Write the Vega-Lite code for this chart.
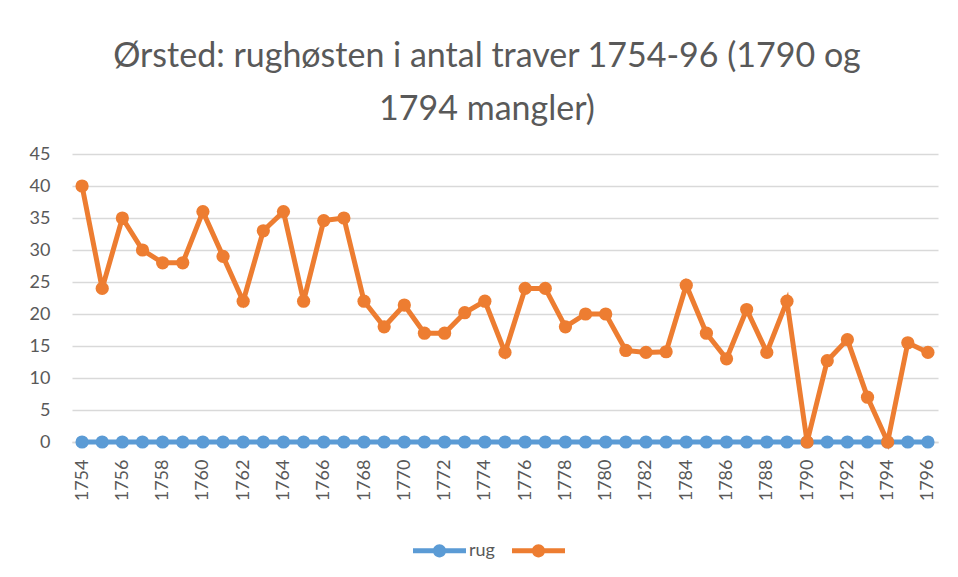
{
  "$schema": "https://vega.github.io/schema/vega-lite/v6.json",
  "width": 866,
  "height": 288,
  "autosize": {"type": "none"},
  "padding": {"left": 72, "top": 154, "right": 20, "bottom": 135},
  "background": "white",
  "title": {
    "text": ["Ørsted: rughøsten i antal traver 1754-96 (1790 og", "1794 mangler)"],
    "font": "Lato",
    "fontSize": 34,
    "fontWeight": 400,
    "color": "#595959",
    "lineHeight": 53,
    "anchor": "middle",
    "dx": -18,
    "offset": 18
  },
  "config": {
    "view": {"stroke": null},
    "font": "Lato",
    "axis": {"labelFont": "Lato", "labelColor": "#595959", "labelFontSize": 18}
  },
  "data": {
    "values": [
      {"year": 1754, "series": "rug", "value": 0},
      {"year": 1755, "series": "rug", "value": 0},
      {"year": 1756, "series": "rug", "value": 0},
      {"year": 1757, "series": "rug", "value": 0},
      {"year": 1758, "series": "rug", "value": 0},
      {"year": 1759, "series": "rug", "value": 0},
      {"year": 1760, "series": "rug", "value": 0},
      {"year": 1761, "series": "rug", "value": 0},
      {"year": 1762, "series": "rug", "value": 0},
      {"year": 1763, "series": "rug", "value": 0},
      {"year": 1764, "series": "rug", "value": 0},
      {"year": 1765, "series": "rug", "value": 0},
      {"year": 1766, "series": "rug", "value": 0},
      {"year": 1767, "series": "rug", "value": 0},
      {"year": 1768, "series": "rug", "value": 0},
      {"year": 1769, "series": "rug", "value": 0},
      {"year": 1770, "series": "rug", "value": 0},
      {"year": 1771, "series": "rug", "value": 0},
      {"year": 1772, "series": "rug", "value": 0},
      {"year": 1773, "series": "rug", "value": 0},
      {"year": 1774, "series": "rug", "value": 0},
      {"year": 1775, "series": "rug", "value": 0},
      {"year": 1776, "series": "rug", "value": 0},
      {"year": 1777, "series": "rug", "value": 0},
      {"year": 1778, "series": "rug", "value": 0},
      {"year": 1779, "series": "rug", "value": 0},
      {"year": 1780, "series": "rug", "value": 0},
      {"year": 1781, "series": "rug", "value": 0},
      {"year": 1782, "series": "rug", "value": 0},
      {"year": 1783, "series": "rug", "value": 0},
      {"year": 1784, "series": "rug", "value": 0},
      {"year": 1785, "series": "rug", "value": 0},
      {"year": 1786, "series": "rug", "value": 0},
      {"year": 1787, "series": "rug", "value": 0},
      {"year": 1788, "series": "rug", "value": 0},
      {"year": 1789, "series": "rug", "value": 0},
      {"year": 1790, "series": "rug", "value": 0},
      {"year": 1791, "series": "rug", "value": 0},
      {"year": 1792, "series": "rug", "value": 0},
      {"year": 1793, "series": "rug", "value": 0},
      {"year": 1794, "series": "rug", "value": 0},
      {"year": 1795, "series": "rug", "value": 0},
      {"year": 1796, "series": "rug", "value": 0},
      {"year": 1754, "series": "s2", "value": 40},
      {"year": 1755, "series": "s2", "value": 24},
      {"year": 1756, "series": "s2", "value": 35},
      {"year": 1757, "series": "s2", "value": 30},
      {"year": 1758, "series": "s2", "value": 28},
      {"year": 1759, "series": "s2", "value": 28},
      {"year": 1760, "series": "s2", "value": 36},
      {"year": 1761, "series": "s2", "value": 29},
      {"year": 1762, "series": "s2", "value": 22},
      {"year": 1763, "series": "s2", "value": 33},
      {"year": 1764, "series": "s2", "value": 36},
      {"year": 1765, "series": "s2", "value": 22},
      {"year": 1766, "series": "s2", "value": 34.6},
      {"year": 1767, "series": "s2", "value": 35},
      {"year": 1768, "series": "s2", "value": 22},
      {"year": 1769, "series": "s2", "value": 18},
      {"year": 1770, "series": "s2", "value": 21.4},
      {"year": 1771, "series": "s2", "value": 17},
      {"year": 1772, "series": "s2", "value": 17},
      {"year": 1773, "series": "s2", "value": 20.2},
      {"year": 1774, "series": "s2", "value": 22},
      {"year": 1775, "series": "s2", "value": 14},
      {"year": 1776, "series": "s2", "value": 24},
      {"year": 1777, "series": "s2", "value": 24},
      {"year": 1778, "series": "s2", "value": 18},
      {"year": 1779, "series": "s2", "value": 20},
      {"year": 1780, "series": "s2", "value": 20},
      {"year": 1781, "series": "s2", "value": 14.3},
      {"year": 1782, "series": "s2", "value": 14},
      {"year": 1783, "series": "s2", "value": 14.1},
      {"year": 1784, "series": "s2", "value": 24.5},
      {"year": 1785, "series": "s2", "value": 17},
      {"year": 1786, "series": "s2", "value": 13},
      {"year": 1787, "series": "s2", "value": 20.7},
      {"year": 1788, "series": "s2", "value": 14},
      {"year": 1789, "series": "s2", "value": 22},
      {"year": 1790, "series": "s2", "value": 0},
      {"year": 1791, "series": "s2", "value": 12.7},
      {"year": 1792, "series": "s2", "value": 16},
      {"year": 1793, "series": "s2", "value": 7},
      {"year": 1794, "series": "s2", "value": 0},
      {"year": 1795, "series": "s2", "value": 15.5},
      {"year": 1796, "series": "s2", "value": 14}
    ]
  },
  "encoding": {
    "x": {
      "field": "year",
      "type": "ordinal",
      "scale": {"type": "point", "padding": 0.5},
      "axis": {
        "title": null,
        "values": [1754, 1756, 1758, 1760, 1762, 1764, 1766, 1768, 1770, 1772, 1774, 1776, 1778, 1780, 1782, 1784, 1786, 1788, 1790, 1792, 1794, 1796],
        "labelAngle": -90,
        "labelPadding": 17,
        "ticks": false,
        "domain": true,
        "domainColor": "#d9d9d9",
        "domainWidth": 1.3,
        "grid": false
      }
    },
    "y": {
      "field": "value",
      "type": "quantitative",
      "scale": {"domain": [0, 45], "nice": false},
      "axis": {
        "title": null,
        "values": [0, 5, 10, 15, 20, 25, 30, 35, 40, 45],
        "ticks": false,
        "domain": false,
        "grid": true,
        "gridColor": "#d9d9d9",
        "gridWidth": 1.3,
        "labelPadding": 22
      }
    },
    "color": {
      "field": "series",
      "type": "nominal",
      "scale": {"domain": ["rug", "s2"], "range": ["#5B9BD5", "#ED7D31"]},
      "legend": {
        "title": null,
        "orient": "none",
        "direction": "horizontal",
        "legendX": 341,
        "legendY": 370,
        "symbolType": "M-1,-0.094L1,-0.094L1,0.094L-1,0.094Z M-0.25,0A0.25,0.25 0 1,1 0.25,0A0.25,0.25 0 1,1 -0.25,0Z",
        "symbolSize": 2809,
        "symbolStrokeWidth": 0,
        "symbolOpacity": 1,
        "labelExpr": "datum.label == 'rug' ? 'rug' : ''",
        "labelFont": "Lato",
        "labelFontSize": 18,
        "labelColor": "#595959",
        "labelOffset": 3,
        "columnPadding": 17
      }
    }
  },
  "layer": [
    {
      "transform": [{"filter": "datum.series == 'rug'"}],
      "mark": {"type": "line", "strokeWidth": 5, "point": {"size": 175, "filled": true, "opacity": 1}}
    },
    {
      "transform": [{"filter": "datum.series == 's2'"}],
      "mark": {"type": "line", "strokeWidth": 5, "point": {"size": 175, "filled": true, "opacity": 1}}
    }
  ]
}
